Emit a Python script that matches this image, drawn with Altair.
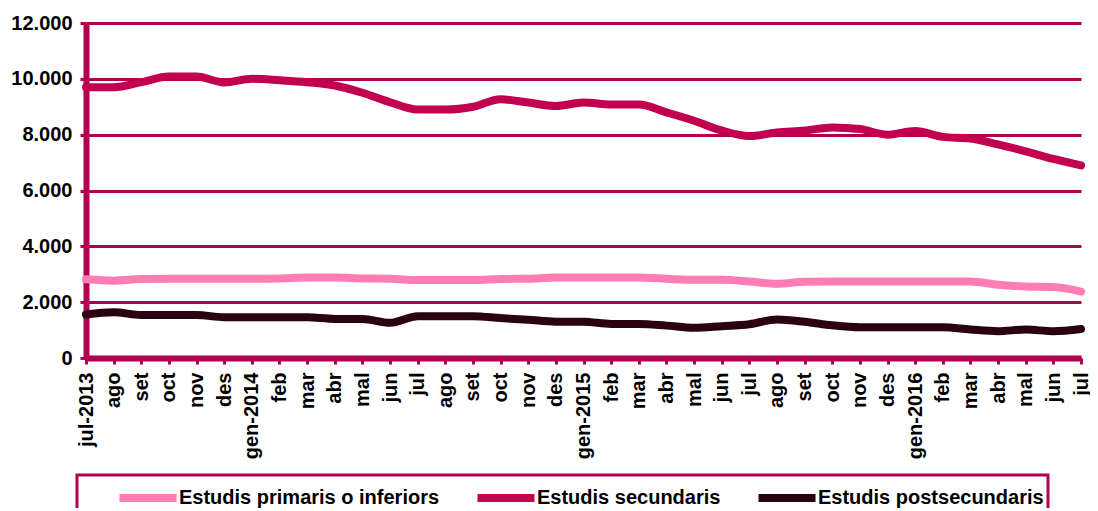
import altair as alt
import pandas as pd

months = ["jul-2013", "ago", "set", "oct", "nov", "des", "gen-2014", "feb", "mar", "abr", "mal", "jun",
          "jul", "ago ", "set ", "oct ", "nov ", "des ", "gen-2015", "feb ", "mar ", "abr ", "mal ", "jun ",
          "jul ", "ago  ", "set  ", "oct  ", "nov  ", "des  ", "gen-2016", "feb  ", "mar  ", "abr  ", "mal  ", "jun  ",
          "jul  "]

primaris = [2820, 2770, 2830, 2840, 2840, 2840, 2840, 2850, 2880, 2880, 2850, 2840,
            2790, 2790, 2790, 2830, 2840, 2880, 2880, 2880, 2880, 2840, 2800, 2800,
            2740, 2660, 2730, 2740, 2740, 2740, 2740, 2740, 2740, 2620, 2560, 2540,
            2380]

secundaris = [9700, 9700, 9880, 10080, 10080, 9870, 10000, 9950, 9880, 9760, 9500, 9160,
              8900, 8900, 9000, 9270, 9150, 9030, 9150, 9080, 9080, 8800, 8500, 8150,
              7950, 8080, 8150, 8260, 8200, 8000, 8130, 7920, 7860, 7650, 7400, 7130,
              6900]

postsec = [1560, 1640, 1540, 1540, 1540, 1460, 1460, 1460, 1460, 1400, 1400, 1260,
           1500, 1500, 1500, 1430, 1370, 1300, 1300, 1220, 1220, 1160, 1080, 1140,
           1210, 1380, 1300, 1170, 1100, 1100, 1100, 1100, 1020, 960, 1020, 960,
           1040]

series_names = ["Estudis primaris o inferiors", "Estudis secundaris", "Estudis postsecundaris"]
series_colors = ["#FF7DB5", "#C2004F", "#2A0012"]

rows = []
for name, vals in zip(series_names, [primaris, secundaris, postsec]):
    for i, (m, v) in enumerate(zip(months, vals)):
        rows.append({"mes": m, "idx": i, "serie": name, "valor": v})
df = pd.DataFrame(rows)

grid = "#B0004F"

chart = alt.Chart(df).mark_line(strokeWidth=8, interpolate="monotone", strokeCap="round").encode(
    x=alt.X("mes:N", sort=months, title=None,
            scale=alt.Scale(type="point", padding=0),
            axis=alt.Axis(labelAngle=270, labelAlign="right", labelBaseline="middle",
                          labelFontSize=20, labelFontWeight="bold", labelFont="Liberation Sans",
                          labelColor="black", labelPadding=8, domainColor=grid, domainWidth=6,
                          tickColor=grid, tickWidth=3, tickSize=6, grid=False,
                          labelExpr="trim(datum.label)")),
    y=alt.Y("valor:Q", title=None,
            scale=alt.Scale(domain=[0, 12000], nice=False, zero=True),
            axis=alt.Axis(values=[0, 2000, 4000, 6000, 8000, 10000, 12000],
                          labelExpr="replace(format(datum.value, ',d'), ',', '.')",
                          labelFontSize=20, labelFontWeight="bold", labelFont="Liberation Sans",
                          labelColor="black", labelPadding=8,
                          domainColor=grid, domainWidth=6,
                          tickColor=grid, tickWidth=3, tickSize=6,
                          grid=True, gridColor=grid, gridWidth=3, gridOpacity=1)),
    color=alt.Color("serie:N", sort=series_names,
                    scale=alt.Scale(domain=series_names, range=series_colors),
                    legend=alt.Legend(orient="none", direction="horizontal", columns=3,
                                      legendX=-9, legendY=452, title=" ",
                                      titleOrient="left", titleFontSize=4, titlePadding=48,
                                      labelFontSize=20, labelFontWeight="bold",
                                      labelFont="Liberation Sans", labelColor="black",
                                      labelOffset=12, symbolSize=900, symbolStrokeWidth=8,
                                      symbolType="M-1.9,0H1.9", columnPadding=21,
                                      labelLimit=400)),
    detail="serie:N",
).properties(
    width=995, height=335,
    autosize=alt.AutoSizeParams(type="none"),
    padding={"left": 78, "top": 15, "right": 9, "bottom": 150},
).configure_view(stroke=None).configure_legend(
    strokeColor=grid, strokeWidth=3, padding=4
)

chart.save("out.html", embed_options={"renderer": "svg", "actions": False})
